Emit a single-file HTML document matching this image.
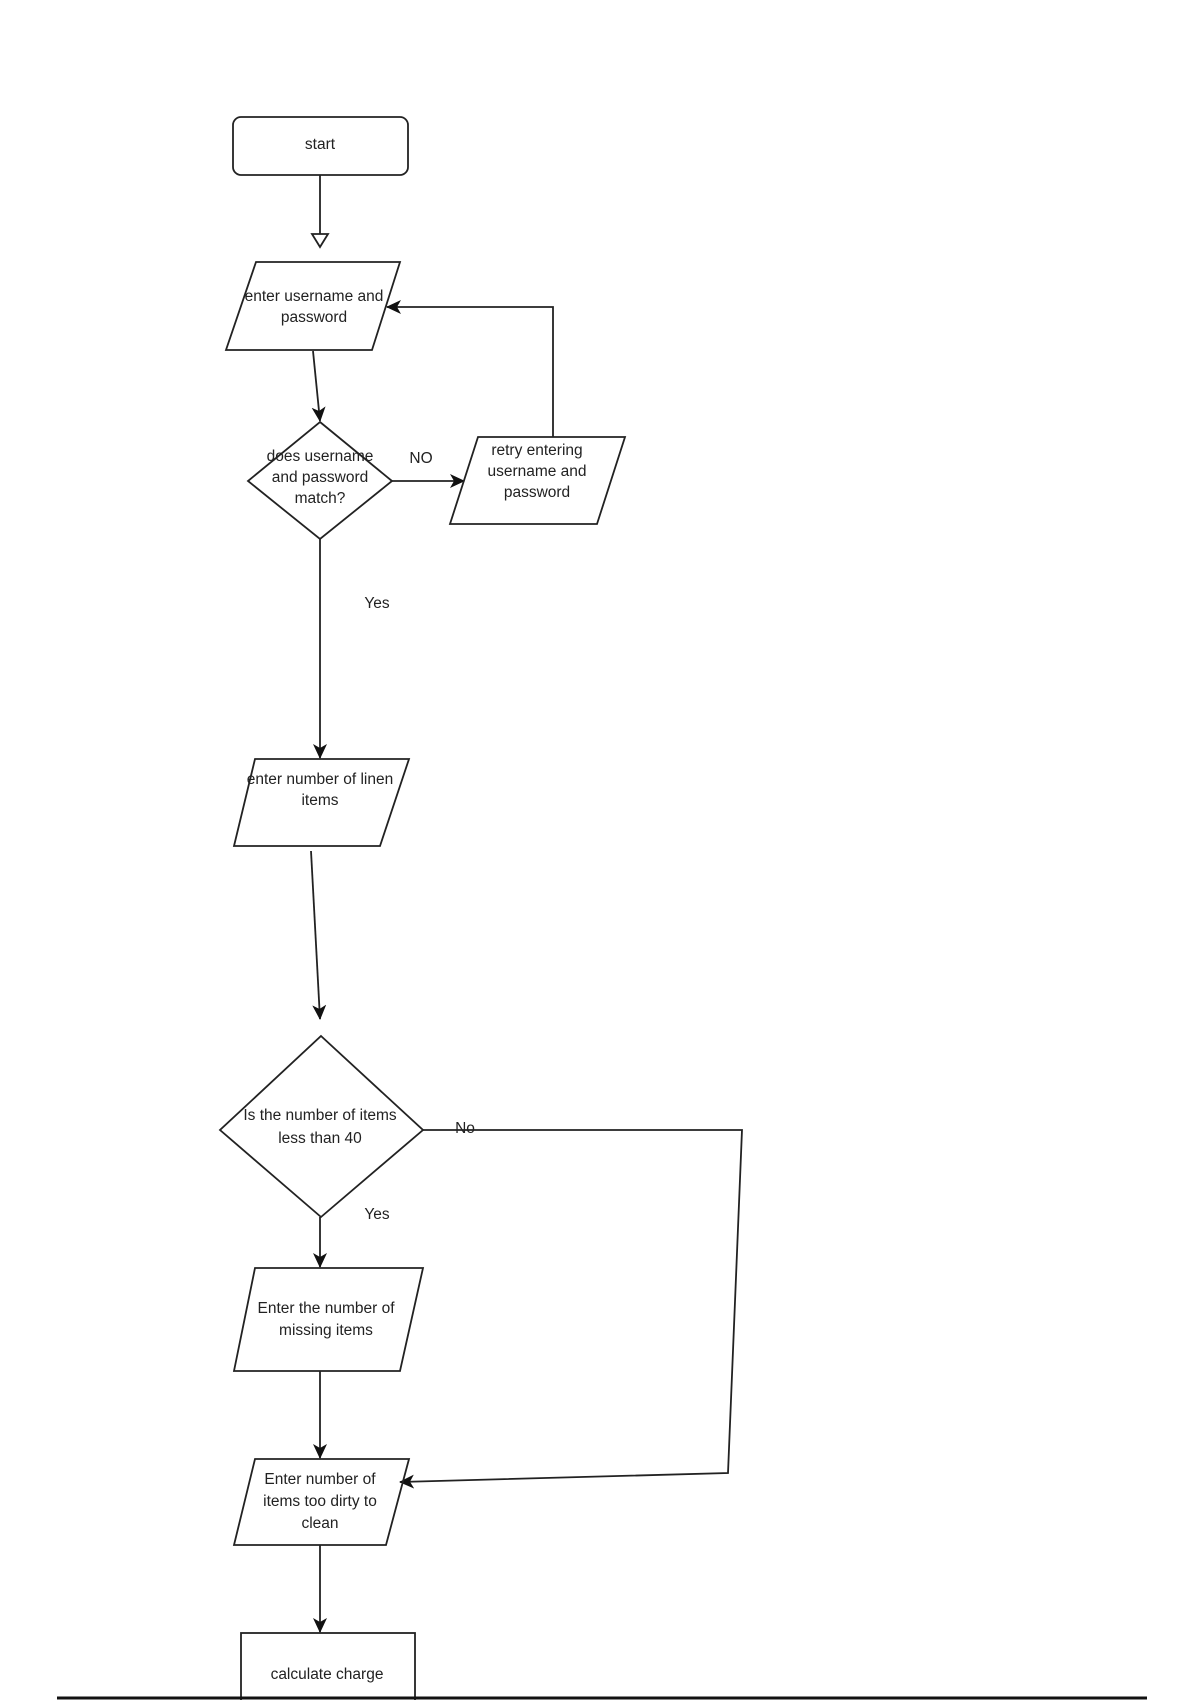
<!DOCTYPE html>
<html><head><meta charset="utf-8"><style>
html,body{margin:0;padding:0;background:#fff;}
svg{display:block}
text{font-family:"Liberation Sans",Arial,sans-serif;font-size:15.5px;fill:#222;text-anchor:middle}
</style></head><body>
<svg width="1200" height="1700" viewBox="0 0 1200 1700" xmlns="http://www.w3.org/2000/svg">
<defs>
<marker id="a" markerWidth="16" markerHeight="14" refX="14" refY="7" orient="auto" markerUnits="userSpaceOnUse">
<path d="M0,0 L15,7 L0,14 L4,7 Z" fill="#111"/></marker>
</defs>
<g fill="none" stroke="#222" stroke-width="1.8">
<rect x="233" y="117" width="175" height="58" rx="8"/>
<line x1="320" y1="175" x2="320" y2="234"/>
<path d="M312,234 L328,234 L320,247 Z" fill="#fff"/>
<polygon points="256,262 400,262 372,350 226,350"/>
<line x1="313" y1="351" x2="320" y2="421" marker-end="url(#a)"/>
<polygon points="320,422 392,481 320,539 248,481"/>
<line x1="392" y1="481" x2="464" y2="481" marker-end="url(#a)"/>
<polygon points="478,437 625,437 597,524 450,524"/>
<polyline points="553,437 553,307 387,307" marker-end="url(#a)"/>
<line x1="320" y1="539" x2="320" y2="758" marker-end="url(#a)"/>
<polygon points="255,759 409,759 380,846 234,846"/>
<line x1="311" y1="851" x2="320" y2="1019" marker-end="url(#a)"/>
<polygon points="321,1036 423,1130 321,1217 220,1130"/>
<polyline points="423,1130 742,1130 728,1473 400,1482" marker-end="url(#a)"/>
<line x1="320" y1="1217" x2="320" y2="1267" marker-end="url(#a)"/>
<polygon points="255,1268 423,1268 400,1371 234,1371"/>
<line x1="320" y1="1371" x2="320" y2="1458" marker-end="url(#a)"/>
<polygon points="255,1459 409,1459 386,1545 234,1545"/>
<line x1="320" y1="1545" x2="320" y2="1632" marker-end="url(#a)"/>
<rect x="241" y="1633" width="174" height="70"/>
</g>
<line x1="57" y1="1698" x2="1147" y2="1698" stroke="#111" stroke-width="3"/>
<text x="320" y="149">start</text>
<text x="314" y="301">enter username and</text>
<text x="314" y="322">password</text>
<text x="320" y="461">does username</text>
<text x="320" y="482">and password</text>
<text x="320" y="503">match?</text>
<text x="421" y="463">NO</text>
<text x="537" y="455">retry entering</text>
<text x="537" y="476">username and</text>
<text x="537" y="497">password</text>
<text x="377" y="608">Yes</text>
<text x="320" y="784">enter number of linen</text>
<text x="320" y="805">items</text>
<text x="320" y="1120">Is the number of items</text>
<text x="320" y="1143">less than 40</text>
<text x="465" y="1133">No</text>
<text x="377" y="1219">Yes</text>
<text x="326" y="1313">Enter the number of</text>
<text x="326" y="1335">missing items</text>
<text x="320" y="1484">Enter number of</text>
<text x="320" y="1506">items too dirty to</text>
<text x="320" y="1528">clean</text>
<text x="327" y="1679">calculate charge</text>
</svg>
</body></html>
